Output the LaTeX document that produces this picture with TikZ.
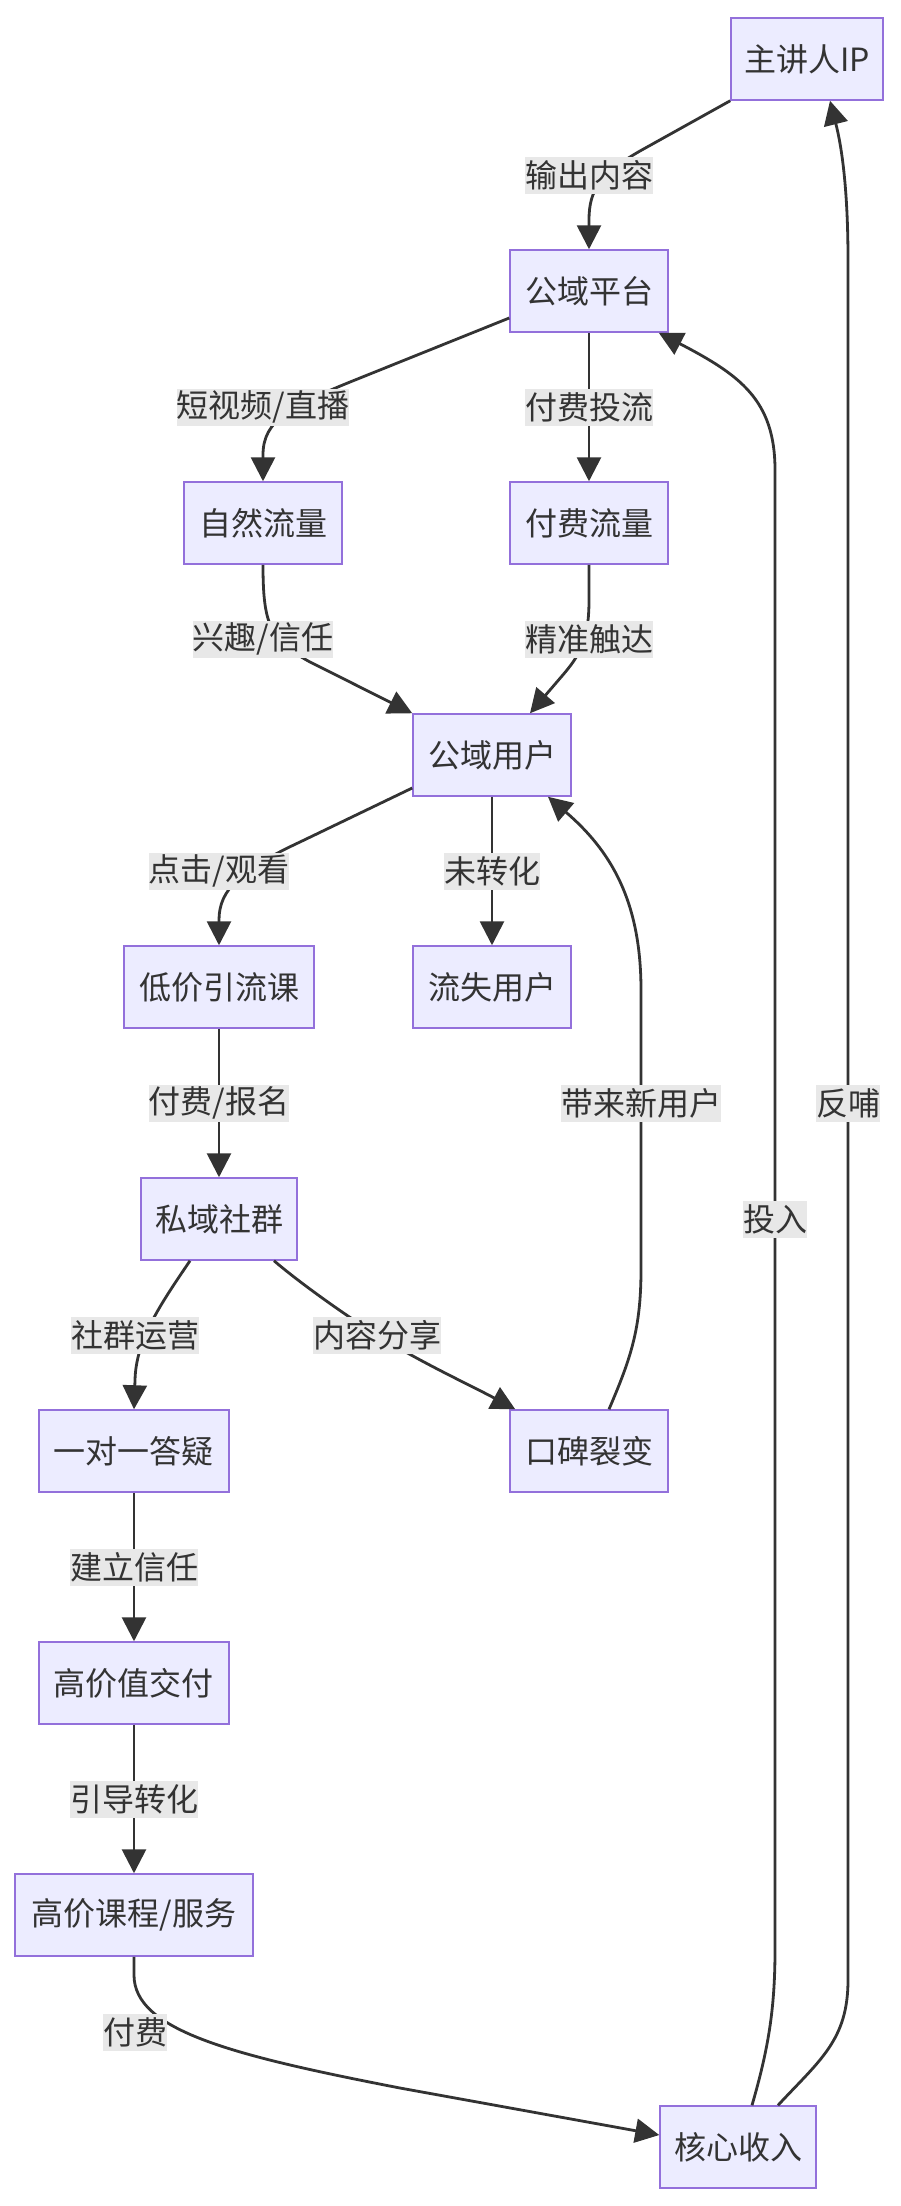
\documentclass[tikz,border=0pt]{standalone}
\usepackage{fontspec}
\newfontfamily\cjk{Noto Sans CJK SC}
\usetikzlibrary{arrows.meta}
\definecolor{nodefill}{HTML}{ECECFF}
\definecolor{nodeline}{HTML}{9370DB}
\definecolor{ink}{HTML}{333333}
\definecolor{lblbg}{HTML}{E8E8E8}
\tikzset{
  box/.style={draw=nodeline, fill=nodefill, line width=0.75pt, minimum height=41pt,
    inner sep=0pt, text=ink, font=\cjk\fontsize{16pt}{19pt}\selectfont},
  lbl/.style={fill=lblbg, text=ink, inner xsep=0pt, inner ysep=0pt, minimum height=18.5pt,
    font=\cjk\fontsize{16pt}{19pt}\selectfont},
  link/.style={draw=ink, line width=1.4pt, -{Triangle[length=12pt,width=12pt]}},
}
\begin{document}
\begin{tikzpicture}[x=0.5pt,y=-0.5pt]
\fill[white] (0,0) rectangle (900,2206);
\useasboundingbox (0,0) rectangle (900,2206);

% nodes
\node[box, minimum width=76pt] (ip) at (807,59) {主讲人IP};
\node[box, minimum width=79pt] (pt) at (589,291) {公域平台};
\node[box, minimum width=79pt] (nat) at (263,523) {自然流量};
\node[box, minimum width=79pt] (paid) at (589,523) {付费流量};
\node[box, minimum width=79pt] (users) at (492,755) {公域用户};
\node[box, minimum width=95pt] (low) at (219,987) {低价引流课};
\node[box, minimum width=79pt] (lost) at (492,987) {流失用户};
\node[box, minimum width=78pt] (priv) at (219,1219) {私域社群};
\node[box, minimum width=95pt] (qa) at (134,1451) {一对一答疑};
\node[box, minimum width=79pt] (wom) at (589,1451) {口碑裂变};
\node[box, minimum width=95pt] (hv) at (134,1683) {高价值交付};
\node[box, minimum width=119pt] (hp) at (134,1915) {高价课程/服务};
\node[box, minimum width=78pt] (core) at (738,2147) {核心收入};

% connectors
\draw[link] (ip.south west) -- (640,151) .. controls (600,174) and (589,190) .. (589,220) -- (pt.north);
\draw[link] ([yshift=-13.5pt]pt.west) -- (360,378) .. controls (290,406) and (263,420) .. (263,455) -- (nat.north);
\draw[link] (pt.south) -- (paid.north);
\draw[link] (nat.south) .. controls (263,625) and (270,640) .. (310,662) -- (users.north west);
\draw[link] (paid.south) -- (589,600) .. controls (589,640) and (580,655) .. (562,676) -- ([xshift=19pt]users.north);
\draw[link] ([yshift=-16.5pt]users.west) -- (300,842) .. controls (240,870) and (219,890) .. (219,920) -- (low.north);
\draw[link] (users.south) -- (lost.north);
\draw[link] (low.south) -- (priv.north);
\draw[link] ([xshift=-14.5pt]priv.south) .. controls (160,1305) and (136,1340) .. (135,1380) -- (qa.north);
\draw[link] ([xshift=27.5pt]priv.south) .. controls (300,1283) and (345,1315) .. (377,1335) .. controls (420,1362) and (470,1385) .. ([xshift=3pt]wom.north west);
\draw[link] ([xshift=10pt]wom.north) .. controls (630,1360) and (641,1330) .. (641,1270) -- (641,990) .. controls (641,900) and (610,850) .. ([xshift=28pt]users.south);
\draw[link] (qa.south) -- (hv.north);
\draw[link] (hv.south) -- (hp.north);
\draw[link] (hp.south) -- (134,1975) .. controls (134,2030) and (230,2055) .. (400,2088) -- ([yshift=6pt]core.west);
\draw[link] ([xshift=7pt]core.north) .. controls (768,2050) and (775,2010) .. (775,1950) -- (775,470) .. controls (775,400) and (740,375) .. ([xshift=-5pt]pt.south east);
\draw[link] ([xshift=20pt]core.north) .. controls (820,2060) and (848,2040) .. (848,1980) -- (848,260) .. controls (848,180) and (840,140) .. ([xshift=11.5pt]ip.south);

% labels
\node[lbl] (l1) at (589,175) {输出内容};
\node[lbl] (l2) at (263,407) {短视频/直播};
\node[lbl] (l3) at (589,407) {付费投流};
\node[lbl] (l4) at (263,639) {兴趣/信任};
\node[lbl] (l5) at (589,639) {精准触达};
\node[lbl] (l6) at (219,871) {点击/观看};
\node[lbl] (l7) at (492,871) {未转化};
\node[lbl] (l8) at (219,1103) {付费/报名};
\node[lbl] (l9) at (135,1335) {社群运营};
\node[lbl] (l10) at (377,1335) {内容分享};
\node[lbl] (l11) at (641,1103) {带来新用户};
\node[lbl] (l12) at (134,1567) {建立信任};
\node[lbl] (l13) at (134,1799) {引导转化};
\node[lbl] (l14) at (135,2032) {付费};
\node[lbl] (l15) at (775,1219) {投入};
\node[lbl] (l16) at (848,1103) {反哺};
\end{tikzpicture}
\end{document}
